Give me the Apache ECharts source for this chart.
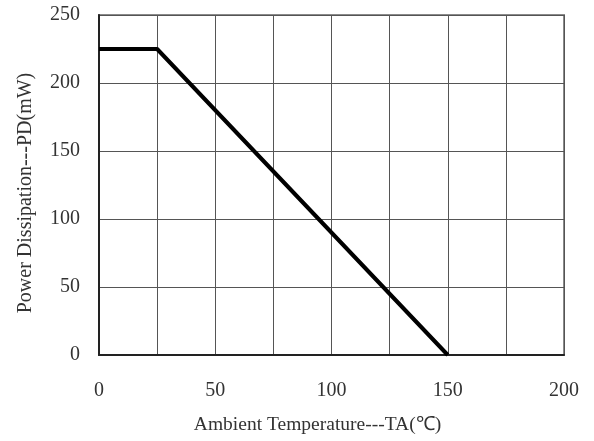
<!DOCTYPE html>
<html>
<head>
<meta charset="utf-8">
<script src="https://cdn.jsdelivr.net/npm/echarts@6/dist/echarts.min.js"></script>
<style>
html,body{margin:0;padding:0;background:#fff;}
#chart{width:594px;height:441px;}
</style>
</head>
<body>
<div id="chart"></div>
<script>
const temperatures = [0, 25, 150];
const powerValues = [225, 225, 0];
const xTickLabels = [0, 50, 100, 150, 200];
const yTickLabels = [0, 50, 100, 150, 200, 250];
const xTitle = 'Ambient Temperature---TA(℃)';
const yTitle = 'Power Dissipation---PD(mW)';

const font = '"Liberation Serif", "Times New Roman", serif';
const chart = echarts.init(document.getElementById('chart'), null, {renderer: 'canvas'});
chart.setOption({
  animation: false,
  backgroundColor: '#fff',
  grid: {
    left: 99, right: 30, top: 15, bottom: 86,
    show: true, borderColor: '#8a8a8a', borderWidth: 2
  },
  xAxis: {
    type: 'value', min: 0, max: 200, interval: 25,
    name: xTitle, nameLocation: 'middle', nameGap: 60,
    nameTextStyle: {fontFamily: font, fontSize: 19.5, color: '#333', padding: [0, 28, 0, 0]},
    axisLine: {show: true, onZero: false, lineStyle: {color: '#222', width: 2}},
    axisTick: {show: false},
    axisLabel: {
      margin: 26, fontFamily: font, fontSize: 20, color: '#333',
      formatter: v => xTickLabels.includes(v) ? String(v) : ''
    },
    splitLine: {show: true, lineStyle: {color: '#555', width: 1}}
  },
  yAxis: {
    type: 'value', min: 0, max: 250, interval: 50,
    name: yTitle, nameLocation: 'middle', nameGap: 63,
    nameTextStyle: {fontFamily: font, fontSize: 20, color: '#333', padding: [0, 16, 0, 0]},
    axisLine: {show: true, onZero: false, lineStyle: {color: '#222', width: 2}},
    axisTick: {show: false},
    axisLabel: {
      margin: 19, fontFamily: font, fontSize: 20, color: '#333',
      formatter: v => yTickLabels.includes(v) ? String(v) : ''
    },
    splitLine: {show: true, lineStyle: {color: '#555', width: 1}}
  },
  series: [{
    type: 'line',
    data: temperatures.map((t, i) => [t, powerValues[i]]),
    symbol: 'none',
    lineStyle: {color: '#000', width: 4},
    z: 5
  }]
});
</script>
</body>
</html>
